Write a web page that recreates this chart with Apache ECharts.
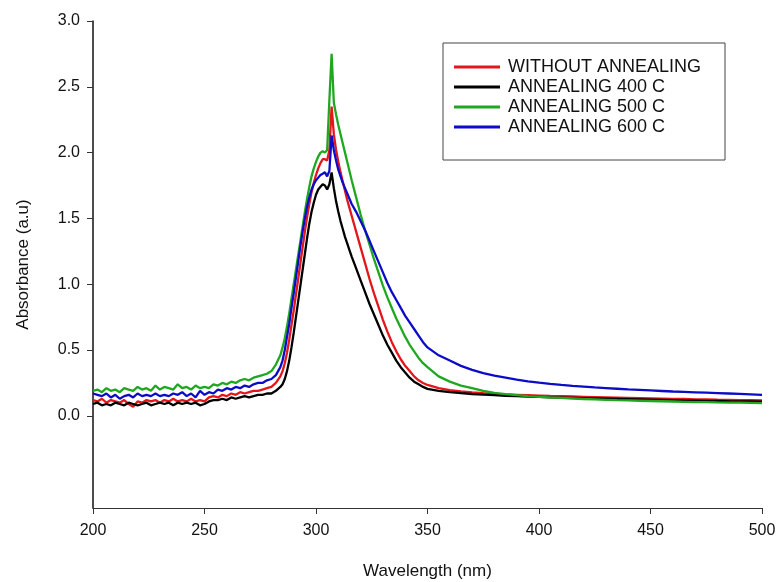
<!DOCTYPE html>
<html>
<head>
<meta charset="utf-8">
<script src="https://cdn.jsdelivr.net/npm/echarts@6/dist/echarts.min.js"></script>
<style>
  html, body { margin: 0; padding: 0; background: #fff; }
  #chart_absorbance { width: 779px; height: 582px; }
</style>
</head>
<body>
<div id="chart_absorbance"></div>
<script>
// wavelength grid (nm)
var wavelength = [
  200, 202, 204, 206, 208, 210, 212, 214, 216, 218, 220, 222, 224, 226, 228, 230, 232, 234, 236, 238,
  240, 242, 244, 246, 248, 250, 252, 254, 256, 258, 260, 262, 264, 266, 268, 270, 272, 274, 276, 278,
  280, 282,
  284, 285, 286, 287, 288, 289, 290, 291, 292, 293, 294, 295, 296, 297, 298, 299, 300, 301, 302, 303,
  304, 305, 306, 307, 308, 309, 310, 311, 312, 313, 314, 315, 316,
  318, 320, 322, 324, 326, 328, 330, 332, 334, 336, 338, 340, 342, 344, 346, 348, 350,
  355, 360, 365, 370, 375, 380, 385, 390, 395, 400, 405, 410, 415, 420, 425, 430, 435, 440, 445, 450,
  455, 460, 465, 470, 475, 480, 485, 490, 495, 500
];

var without_annealing = [
  0.12, 0.11, 0.13, 0.10, 0.12, 0.11, 0.10, 0.12, 0.09, 0.07, 0.11, 0.10, 0.12, 0.11, 0.12, 0.10, 0.12, 0.11, 0.13, 0.11,
  0.12, 0.11, 0.13, 0.11, 0.12, 0.11, 0.14, 0.15, 0.14, 0.16, 0.15, 0.17, 0.16, 0.18, 0.17, 0.18, 0.19, 0.19, 0.20, 0.21,
  0.22, 0.25,
  0.30, 0.34, 0.40, 0.48, 0.58, 0.69, 0.80, 0.92, 1.04, 1.16, 1.28, 1.40, 1.51, 1.61, 1.70, 1.77, 1.83, 1.88, 1.92, 1.95,
  1.95, 1.94, 2.02, 2.35, 2.14, 2.02, 1.93, 1.85, 1.78, 1.71, 1.64, 1.58, 1.52,
  1.40, 1.28, 1.16, 1.04, 0.93, 0.83, 0.73, 0.64, 0.56, 0.49, 0.43, 0.38, 0.34, 0.30, 0.27, 0.25, 0.235,
  0.21, 0.195, 0.185, 0.178, 0.172, 0.167, 0.163, 0.160, 0.157, 0.154, 0.151, 0.149, 0.147, 0.145, 0.143, 0.141, 0.139, 0.137, 0.135, 0.133,
  0.131, 0.129, 0.128, 0.126, 0.125, 0.123, 0.122, 0.120, 0.119, 0.117
];

var annealing_400 = [
  0.09, 0.10, 0.08, 0.09, 0.08, 0.10, 0.09, 0.08, 0.10, 0.09, 0.08, 0.09, 0.10, 0.08, 0.09, 0.10, 0.09, 0.10, 0.08, 0.10,
  0.09, 0.10, 0.09, 0.10, 0.08, 0.09, 0.11, 0.12, 0.12, 0.13, 0.12, 0.14, 0.13, 0.14, 0.15, 0.14, 0.15, 0.16, 0.16, 0.17,
  0.17, 0.19,
  0.22, 0.24, 0.28, 0.34, 0.42, 0.52, 0.63, 0.75, 0.87, 0.99, 1.11, 1.23, 1.35, 1.46, 1.55, 1.62, 1.68, 1.72, 1.74, 1.76,
  1.75, 1.72, 1.76, 1.85, 1.73, 1.63, 1.55, 1.48, 1.42, 1.36, 1.31, 1.26, 1.21,
  1.12, 1.03, 0.94, 0.85, 0.77, 0.69, 0.61, 0.54, 0.48, 0.42, 0.37, 0.33, 0.29, 0.26, 0.24, 0.22, 0.205,
  0.19, 0.18, 0.172, 0.166, 0.161, 0.157, 0.153, 0.150, 0.147, 0.144, 0.141, 0.139, 0.137, 0.135, 0.133, 0.131, 0.129, 0.127, 0.125, 0.123,
  0.121, 0.119, 0.117, 0.116, 0.114, 0.113, 0.111, 0.110, 0.109, 0.108
];

var annealing_500 = [
  0.19, 0.20, 0.18, 0.21, 0.19, 0.20, 0.18, 0.21, 0.20, 0.19, 0.22, 0.20, 0.21, 0.19, 0.23, 0.20, 0.22, 0.21, 0.20, 0.24,
  0.21, 0.22, 0.20, 0.23, 0.21, 0.22, 0.21, 0.24, 0.23, 0.25, 0.24, 0.26, 0.25, 0.27, 0.28, 0.27, 0.29, 0.30, 0.31, 0.32,
  0.34, 0.39,
  0.46, 0.52, 0.59, 0.68, 0.78, 0.89, 1.00, 1.11, 1.22, 1.33, 1.44, 1.55, 1.65, 1.74, 1.82, 1.88, 1.93, 1.97, 2.00, 2.01,
  2.00, 2.02, 2.40, 2.75, 2.38, 2.29, 2.21, 2.14, 2.07, 2.00, 1.93, 1.86, 1.79,
  1.66, 1.53, 1.41, 1.30, 1.19, 1.09, 0.99, 0.90, 0.82, 0.74, 0.67, 0.60, 0.54, 0.49, 0.44, 0.40, 0.37,
  0.30, 0.26, 0.23, 0.21, 0.19, 0.175, 0.165, 0.157, 0.150, 0.145, 0.140, 0.136, 0.132, 0.128, 0.125, 0.122, 0.119, 0.117, 0.115, 0.113,
  0.111, 0.109, 0.107, 0.105, 0.104, 0.102, 0.101, 0.100, 0.099, 0.097
];

var annealing_600 = [
  0.17, 0.16, 0.15, 0.17, 0.14, 0.16, 0.13, 0.15, 0.16, 0.14, 0.17, 0.15, 0.16, 0.15, 0.17, 0.15, 0.16, 0.15, 0.17, 0.16,
  0.18, 0.15, 0.17, 0.14, 0.19, 0.16, 0.18, 0.17, 0.20, 0.19, 0.21, 0.20, 0.22, 0.21, 0.23, 0.22, 0.24, 0.25, 0.25, 0.27,
  0.28, 0.31,
  0.37, 0.42, 0.50, 0.60, 0.70, 0.82, 0.93, 1.05, 1.17, 1.29, 1.40, 1.50, 1.59, 1.66, 1.72, 1.76, 1.79, 1.81, 1.83, 1.84,
  1.85, 1.82, 1.86, 2.13, 2.02, 1.94, 1.87, 1.82, 1.77, 1.73, 1.69, 1.65, 1.61,
  1.55, 1.48, 1.41, 1.33, 1.25, 1.17, 1.09, 1.01, 0.94, 0.88, 0.82, 0.76, 0.71, 0.66, 0.61, 0.56, 0.52,
  0.46, 0.42, 0.38, 0.35, 0.325, 0.305, 0.290, 0.275, 0.262, 0.252, 0.243, 0.235, 0.228, 0.222, 0.216, 0.211, 0.206, 0.201, 0.197, 0.193,
  0.189, 0.185, 0.182, 0.179, 0.176, 0.173, 0.170, 0.167, 0.164, 0.160
];

var y_ticks = [0, 0.5, 1.0, 1.5, 2.0, 2.5, 3.0];
var series_names = ['WITHOUT ANNEALING', 'ANNEALING 400 C', 'ANNEALING 500 C', 'ANNEALING 600 C'];
var series_values = [without_annealing, annealing_400, annealing_500, annealing_600];
var series_colors = ['#e3161b', '#000000', '#1fa81f', '#0b0bc8'];

function pairs(values) {
  var out = [];
  for (var i = 0; i < wavelength.length; i++) {
    out.push([wavelength[i], values[i]]);
  }
  return out;
}

var font = 'Liberation Sans, Arial, sans-serif';

var series = [];
for (var k = 0; k < series_names.length; k++) {
  series.push({
    name: series_names[k],
    type: 'line',
    data: pairs(series_values[k]),
    showSymbol: false,
    symbol: 'none',
    lineStyle: { color: series_colors[k], width: 2.3 },
    itemStyle: { color: series_colors[k] }
  });
}

var option = {
  animation: false,
  backgroundColor: '#fff',
  grid: { left: 93, right: 17, top: 21, bottom: 74, containLabel: false, outerBoundsMode: 'none' },
  legend: {
    orient: 'vertical',
    left: 454,
    top: 58,
    padding: 0,
    itemGap: 2,
    itemWidth: 46,
    itemHeight: 3,
    icon: 'rect',
    textStyle: { fontFamily: font, fontSize: 18, color: '#111', padding: [0, 0, 0, 3] },
    data: series_names
  },
  graphic: [{
    type: 'rect',
    shape: { x: 443, y: 43, width: 282, height: 117 },
    style: { fill: 'none', stroke: '#444', lineWidth: 1 },
    z: 10
  }],
  xAxis: {
    type: 'value',
    min: 200,
    max: 500,
    interval: 50,
    name: 'Wavelength (nm)',
    nameLocation: 'middle',
    nameGap: 55,
    nameTextStyle: { fontFamily: font, fontSize: 17, color: '#111' },
    axisLine: { onZero: false, lineStyle: { color: '#333', width: 1 } },
    axisTick: { inside: false, length: 6, lineStyle: { color: '#333' } },
    axisLabel: { margin: 15, fontFamily: font, fontSize: 16, color: '#111' },
    splitLine: { show: false }
  },
  yAxis: {
    type: 'value',
    min: -0.7,
    max: 3.0,
    name: 'Absorbance (a.u)',
    nameLocation: 'middle',
    nameGap: 61,
    nameTextStyle: { fontFamily: font, fontSize: 17, color: '#111' },
    axisLine: { show: true, lineStyle: { color: '#111', width: 1.5 } },
    axisTick: { show: true, length: 6, customValues: y_ticks, lineStyle: { color: '#333' } },
    axisLabel: {
      margin: 13,
      fontFamily: font,
      fontSize: 16,
      color: '#111',
      customValues: y_ticks,
      formatter: function(v) { return v.toFixed(1); }
    },
    splitLine: { show: false }
  },
  series: series
};

var myChart_absorbance = echarts.init(document.getElementById('chart_absorbance'));
myChart_absorbance.setOption(option);
</script>
</body>
</html>
